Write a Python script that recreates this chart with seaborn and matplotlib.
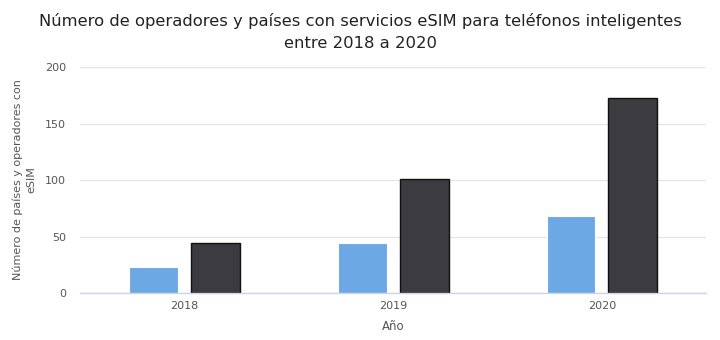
import matplotlib
matplotlib.use("Agg")
import matplotlib.pyplot as plt
import seaborn as sns
import pandas as pd

years = ["2018", "2019", "2020"]
series_names = ["Países", "Operadores"]
paises = [23, 44, 68]
operadores = [44, 101, 173]
colors = ["#6ca8e3", "#3b3b40"]

df = pd.DataFrame({
    "Año": years * 2,
    "Serie": [series_names[0]] * 3 + [series_names[1]] * 3,
    "Valor": paises + operadores,
})

sns.set_theme(style="white")
plt.rcParams["font.family"] = ["DejaVu Sans"]

fig = plt.figure(figsize=(7.2, 3.4), dpi=100)
ax = fig.add_axes([0.111, 0.138, 0.870, 0.665])

sns.barplot(data=df, x="Año", y="Valor", hue="Serie", palette=colors,
            width=0.593, gap=0.21, ax=ax, legend=False, saturation=1)

for patch in ax.patches:
    fc = patch.get_facecolor()
    if fc[0] < 0.4:
        patch.set_edgecolor("#111111")
        patch.set_linewidth(1.0)
    else:
        patch.set_edgecolor("white")
        patch.set_linewidth(0.8)

ax.set_ylim(0, 200)
ax.set_yticks([0, 50, 100, 150, 200])
ax.set_xlim(-0.5, 2.5)
ax.grid(axis="y", color="#e6e6e6", linewidth=1)
ax.set_axisbelow(True)
for s in ["top", "right", "left"]:
    ax.spines[s].set_visible(False)
ax.spines["bottom"].set_color("#ccd6eb")
ax.spines["bottom"].set_linewidth(1)
ax.tick_params(axis="both", length=0, labelsize=8, labelcolor="#555555")
ax.tick_params(axis="y", pad=10)
ax.tick_params(axis="x", pad=6)

ax.set_xlabel("Año", fontsize=8.5, color="#555555", labelpad=6)
ax.set_ylabel("Número de países y operadores con\neSIM", fontsize=8, color="#555555",
              labelpad=6, linespacing=1.45)

fig.suptitle("Número de operadores y países con servicios eSIM para teléfonos inteligentes\nentre 2018 a 2020",
             fontsize=11.8, color="#222222", y=0.962, linespacing=1.6)

fig.savefig("out.png", dpi=100)
